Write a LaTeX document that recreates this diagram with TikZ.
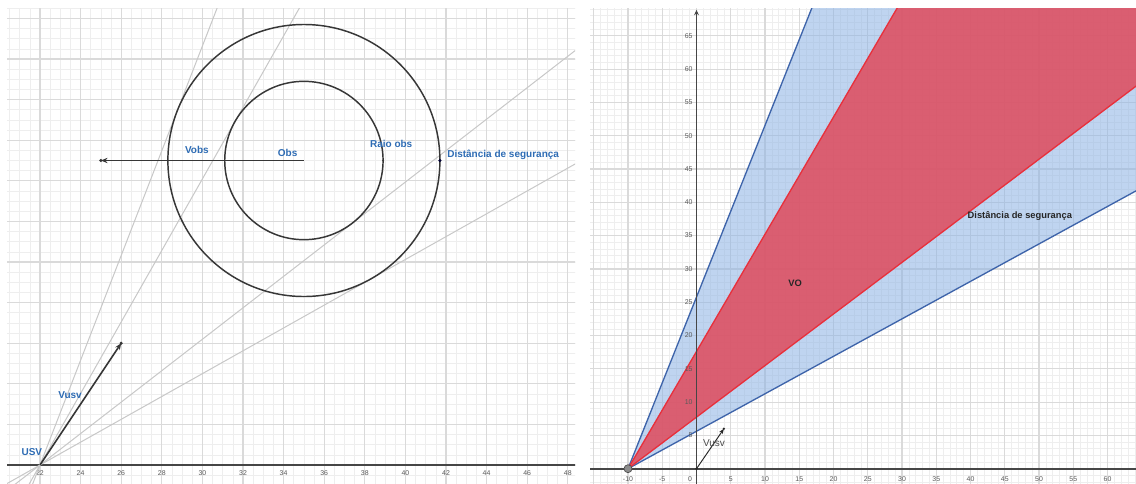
\documentclass[tikz,border=0pt]{standalone}
\usepackage{fontspec}
\setmainfont{Liberation Sans}
\usetikzlibrary{arrows.meta,calc}
\definecolor{lblblue}{RGB}{46,108,180}
\definecolor{gmajor}{RGB}{218,218,218}
\definecolor{gminor}{RGB}{238,238,238}
\definecolor{tang}{RGB}{200,200,200}
\definecolor{circ}{RGB}{55,55,55}
\definecolor{axisc}{RGB}{70,70,70}
\definecolor{tickc}{RGB}{90,90,90}
\definecolor{bfill}{RGB}{140,178,228}
\definecolor{bline}{RGB}{62,100,170}
\definecolor{rfill}{RGB}{222,78,96}
\definecolor{rline}{RGB}{232,48,60}
\tikzset{
  minorgrid/.style={draw=gminor,line width=0.5pt},
  majorgrid/.style={draw=gmajor,line width=0.9pt},
  axisline/.style={draw=axisc,line width=1.2pt},
  tangline/.style={draw=tang,line width=0.75pt},
  circline/.style={draw=circ,line width=1.1pt},
  vecline/.style={draw=circ,line width=1.2pt,-{Stealth[length=5pt,width=4pt]}},
  bluelbl/.style={text=lblblue,font=\bfseries\fontsize{7.5}{8}\selectfont,inner sep=0pt},
  ticklbl/.style={text=tickc,font=\fontsize{5.2}{6}\selectfont,inner sep=0pt},
  blacklbl/.style={text=black!85,font=\bfseries\fontsize{7}{8}\selectfont,inner sep=0pt},
  dotpt/.style={circle,fill=circ,inner sep=0pt,minimum size=2.5pt},
}
\begin{document}
\begin{tikzpicture}[x=0.75pt,y=-0.75pt]
\useasboundingbox (0,0) rectangle (1136,483);
\fill[white] (0,0) rectangle (1136,483);

% ---------------- left panel ----------------
\begin{scope}
\clip (7,8) rectangle (575,483);
\begin{scope}[shift={(-406.6,465)},x=15.225pt,y=15.225pt]
  \foreach \g in {20,20.5,...,49} \draw[minorgrid] (\g,-2) -- (\g,24);
  \foreach \g in {-1,-0.5,...,23} \draw[minorgrid] (20,\g) -- (50,\g);
  \foreach \g in {20,22,...,48} \draw[majorgrid] (\g,-2) -- (\g,24);
  \foreach \g in {-2,0,...,22} \draw[majorgrid] (20,\g) -- (50,\g);
  \draw[axisline] (20,0) -- (50,0);
  \foreach \t in {22,24,...,48} \node[ticklbl] at (\t,-0.42) {\t};
  \coordinate (usv) at (22,0);
  \coordinate (obs) at (35,15);
  \coordinate (vobsend) at (25,15);
  \coordinate (vusvend) at (26,6);
  \coordinate (raio) at (38.9,15);
  \coordinate (dseg) at (41.7,15);
  % tangent lines
  \foreach \a in {68.813,60.417,37.755,29.359}
    \draw[tangline] ($(usv)+(\a:-4)$) -- ($(usv)+(\a:45)$);
  % circles
  \draw[circline] (obs) circle (6.7);
  \draw[circline] (obs) circle (3.9);
  % vectors
  \draw[vecline] (obs) -- (vobsend);
  \draw[vecline] (usv) -- (vusvend);
  \node[dotpt] at (vobsend) {};
  \node[dotpt] at (vusvend) {};
  \node[dotpt,minimum size=1.5pt] at (raio) {};
  \node[dotpt,fill=black!80!blue] at (dseg) {};
  % labels
  \node[bluelbl] (lvobs) at (29.73,15.5) {Vobs};
  \node[bluelbl] (lobs) at (34.2,15.35) {Obs};
  \node[bluelbl] (lraio) at (39.3,15.8) {Raio obs};
  \node[bluelbl,anchor=west] (ldseg) at (42.05,15.3) {Distância de segurança};
  \node[bluelbl] (lvusv) at (23.48,3.45) {Vusv};
  \node[bluelbl] (lusv) at (21.6,0.64) {USV};
\end{scope}
\end{scope}

% ---------------- right panel ----------------
\begin{scope}
\clip (590,8) rectangle (1136,483);
\begin{scope}[shift={(696.5,468.7)},x=5.1375pt,y=4.995pt]
  \foreach \g in {-16,...,65} \draw[minorgrid] (\g,-3) -- (\g,71);
  \foreach \g in {-3,...,70} \draw[minorgrid] (-17,\g) -- (66,\g);
  \foreach \g in {-15,-10,...,65} \draw[majorgrid] (\g,-3) -- (\g,71);
  \foreach \g in {0,5,...,70} \draw[majorgrid] (-17,\g) -- (66,\g);
  \coordinate (apex) at (-10,0);
  \coordinate (origin) at (0,0);
  \coordinate (vend) at (4,6);
  % blue region
  \fill[bfill,opacity=0.55] (apex) -- (21.04,80) -- (70,80) -- (70,45.0) -- cycle;
  % red region
  \fill[rfill,opacity=0.88] (apex) -- (35.45,80) -- (70,80) -- (70,61.96) -- cycle;
  % boundary lines
  \draw[bline,line width=1pt] (apex) -- (21.04,80);
  \draw[bline,line width=1pt] (apex) -- (70,45.0);
  \draw[rline,line width=1pt] (apex) -- (35.45,80);
  \draw[rline,line width=1pt] (apex) -- (70,61.96);
  % axes
  \draw[axisline] (-17,0) -- (66,0);
  \draw[axisline,-{Stealth[length=4pt,width=3.5pt]}] (0,-3) -- (0,68.9);
  \foreach \t in {-10,-5,5,10,...,60} \node[ticklbl] at (\t,-1.5) {\t};
  \node[ticklbl] at (-0.95,-1.5) {0};
  \foreach \t in {5,10,...,65} \node[ticklbl,anchor=east] at (-0.55,\t) {\t};
  % apex point
  \node[circle,fill=black!45,draw=black!70,line width=0.5pt,inner sep=0pt,minimum size=6pt] (apexpt) at (apex) {};
  % Vusv vector
  \draw[draw=black!85,line width=0.7pt,-{Stealth[length=4pt,width=3pt]}] (origin) -- (vend);
  \node[circle,fill=black!85,inner sep=0pt,minimum size=2pt] at (vend) {};
  \node[circle,fill=black!85,inner sep=0pt,minimum size=2pt] at (origin) {};
  \node[text=black!70,font=\fontsize{7.5}{8}\selectfont,inner sep=0pt] (rvusv) at (2.55,3.86) {Vusv};
  \node[blacklbl] (vo) at (14.4,27.9) {VO};
  \node[blacklbl] (rdseg) at (47.2,37.9) {Distância de segurança};
\end{scope}
\end{scope}
\end{tikzpicture}
\end{document}
